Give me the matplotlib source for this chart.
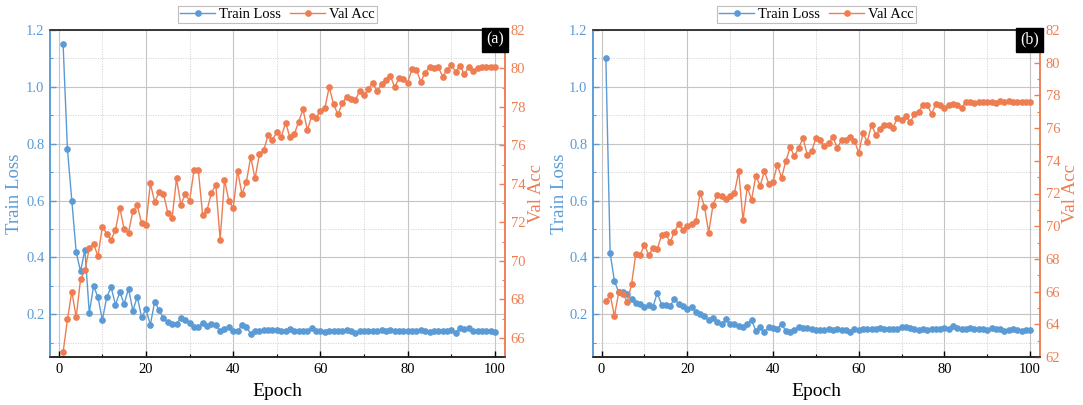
import matplotlib
matplotlib.use("Agg")
import matplotlib.pyplot as plt
from matplotlib.ticker import MultipleLocator
import numpy as np

plt.rcParams['font.family'] = ['Liberation Serif', 'DejaVu Serif']

BLUE = '#5B9BD5'
ORANGE = '#EE7D52'

epochs = list(range(1, 101))

# ---- run (a) ----
loss_a = [1.15, 0.78, 0.60, 0.419, 0.351, 0.428, 0.205, 0.30, 0.26, 0.18,
          0.26, 0.296, 0.234, 0.278, 0.237, 0.29, 0.213, 0.262, 0.19, 0.218,
          0.163, 0.245, 0.215, 0.187, 0.173, 0.167, 0.165, 0.188, 0.179, 0.17,
          0.156, 0.155, 0.171, 0.16, 0.167, 0.162, 0.14, 0.148, 0.156, 0.14,
          0.142, 0.161, 0.155, 0.132, 0.142, 0.143, 0.145, 0.145, 0.145, 0.144,
          0.14, 0.14, 0.15, 0.142, 0.14, 0.141, 0.142, 0.153, 0.143, 0.14,
          0.138, 0.14, 0.142, 0.143, 0.14, 0.145, 0.14, 0.136, 0.14, 0.141,
          0.14, 0.142, 0.143, 0.144, 0.143, 0.144, 0.143, 0.142, 0.143, 0.14,
          0.142, 0.143, 0.146, 0.142, 0.137, 0.14, 0.142, 0.143, 0.142, 0.146,
          0.136, 0.153, 0.148, 0.152, 0.14, 0.141, 0.14, 0.141, 0.14, 0.138]

acc_a = [65.24, 66.96, 68.4, 67.07, 69.03, 69.5, 70.65, 70.86, 70.25, 71.78,
         71.41, 71.08, 71.6, 72.76, 71.64, 71.47, 72.6, 72.88, 71.96, 71.87,
         74.03, 73.06, 73.56, 73.5, 72.51, 72.24, 74.28, 72.92, 73.46, 73.13,
         74.7, 74.7, 72.36, 72.64, 73.53, 73.96, 71.1, 74.21, 73.13, 72.74,
         74.68, 73.48, 74.08, 75.39, 74.28, 75.55, 75.76, 76.53, 76.3, 76.7,
         76.44, 77.17, 76.44, 76.58, 77.23, 77.87, 76.79, 77.54, 77.44, 77.8,
         77.93, 79.03, 78.14, 77.61, 78.19, 78.53, 78.41, 78.35, 78.85, 78.6,
         78.94, 79.24, 78.82, 79.2, 79.41, 79.62, 79.04, 79.48, 79.45, 79.27,
         79.98, 79.93, 79.3, 79.79, 80.07, 80.02, 80.07, 79.58, 79.92, 80.16,
         79.84, 80.14, 79.69, 80.1, 79.86, 80.02, 80.09, 80.1, 80.1, 80.1]

# ---- run (b) ----
loss_b = [1.10, 0.416, 0.317, 0.278, 0.278, 0.272, 0.254, 0.24, 0.237, 0.225,
          0.234, 0.227, 0.275, 0.234, 0.233, 0.229, 0.255, 0.236, 0.229, 0.219,
          0.225, 0.209, 0.20, 0.193, 0.179, 0.186, 0.174, 0.165, 0.182, 0.167,
          0.165, 0.16, 0.155, 0.167, 0.179, 0.143, 0.155, 0.138, 0.155, 0.152,
          0.15, 0.167, 0.14, 0.138, 0.146, 0.155, 0.152, 0.152, 0.15, 0.145,
          0.146, 0.145, 0.147, 0.146, 0.147, 0.146, 0.145, 0.139, 0.148, 0.146,
          0.147, 0.147, 0.148, 0.148, 0.151, 0.15, 0.149, 0.148, 0.15, 0.154,
          0.156, 0.152, 0.148, 0.146, 0.147, 0.146, 0.149, 0.15, 0.149, 0.152,
          0.15, 0.158, 0.152, 0.148, 0.147, 0.153, 0.15, 0.148, 0.149, 0.146,
          0.151, 0.148, 0.147, 0.141, 0.144, 0.148, 0.146, 0.143, 0.145, 0.145]

acc_b = [65.4, 65.79, 64.51, 65.95, 65.85, 65.38, 66.47, 68.32, 68.22, 68.88,
         68.22, 68.67, 68.59, 69.45, 69.51, 69.02, 69.65, 70.15, 69.76, 70.02,
         70.15, 70.3, 72.06, 71.2, 69.6, 71.3, 71.92, 71.86, 71.69, 71.86,
         72.02, 73.36, 70.38, 72.4, 71.61, 73.09, 72.48, 73.36, 72.6, 72.72,
         73.75, 72.97, 73.98, 74.82, 74.28, 74.8, 75.38, 74.37, 74.57, 75.38,
         75.27, 74.9, 75.11, 75.44, 74.78, 75.27, 75.3, 75.46, 75.23, 74.49,
         75.69, 75.17, 76.22, 75.56, 75.97, 76.2, 76.18, 76.01, 76.63, 76.49,
         76.73, 76.36, 76.84, 77.0, 77.43, 77.43, 76.86, 77.48, 77.43, 77.25,
         77.43, 77.45, 77.43, 77.23, 77.62, 77.6, 77.56, 77.58, 77.58, 77.6,
         77.6, 77.54, 77.66, 77.58, 77.64, 77.62, 77.62, 77.58, 77.6, 77.62]

panels = [
    dict(tag='(a)', loss=loss_a, acc=acc_a, acc_lim=(65, 82), acc_ticks=np.arange(66, 83, 2),
         rect=[50 / 1083, 48 / 405, 455 / 1083, 327 / 405], lab_x=(-0.077, 1.070)),
    dict(tag='(b)', loss=loss_b, acc=acc_b, acc_lim=(62, 82), acc_ticks=np.arange(62, 83, 2),
         rect=[593 / 1083, 48 / 405, 447 / 1083, 327 / 405], lab_x=(-0.076, 1.069)),
]

fig = plt.figure(figsize=(10.83, 4.05), dpi=100)

for p in panels:
    ax = fig.add_axes(p['rect'])
    ax2 = ax.twinx()

    l1, = ax.plot(epochs, p['loss'], color=BLUE, lw=1.0, marker='o', ms=3.8,
                  label='Train Loss', zorder=3)
    l2, = ax2.plot(epochs, p['acc'], color=ORANGE, lw=1.0, marker='o', ms=3.8,
                   label='Val Acc', zorder=3)

    ax.set_xlim(-2, 102.3)
    ax.set_ylim(0.05, 1.2)
    ax2.set_ylim(*p['acc_lim'])

    ax.xaxis.set_major_locator(MultipleLocator(20))
    ax.xaxis.set_minor_locator(MultipleLocator(10))
    ax.yaxis.set_minor_locator(MultipleLocator(0.1))
    ax.set_yticks(np.arange(0.2, 1.21, 0.2))
    ax2.set_yticks(p['acc_ticks'])
    ax2.yaxis.set_minor_locator(MultipleLocator(1))

    ax.grid(which='major', color='#c4c4c4', lw=0.8, ls='-')
    ax.grid(which='minor', color='#d2d2d2', lw=0.6, ls=(0, (1.5, 1.5)))
    ax.set_axisbelow(True)

    ax.tick_params(axis='x', which='both', direction='in', colors='black',
                   labelsize=10.5, top=False, pad=4)
    ax.tick_params(axis='x', which='major', length=4.5, width=1.0)
    ax.tick_params(axis='x', which='minor', length=2.5, width=0.8)
    ax.tick_params(axis='y', which='both', direction='in', colors=BLUE,
                   labelsize=10.5, pad=4)
    ax.tick_params(axis='y', which='major', length=4.5, width=1.0)
    ax.tick_params(axis='y', which='minor', length=2.5, width=0.8)
    ax2.tick_params(axis='y', which='both', direction='in', colors=ORANGE,
                    labelsize=10.5, pad=4)
    ax2.tick_params(axis='y', which='major', length=4.5, width=1.0)
    ax2.tick_params(axis='y', which='minor', length=2.5, width=0.8)
    ax.set_yticklabels([f'{v:.1f}' for v in np.arange(0.2, 1.21, 0.2)])

    for a in (ax, ax2):
        a.spines['left'].set_color(BLUE)
        a.spines['right'].set_color(ORANGE)
        a.spines['bottom'].set_color('#222222')
        a.spines['top'].set_color('#333333')
        for s in a.spines.values():
            s.set_linewidth(1.1)

    ax.set_xlabel('Epoch', fontsize=14, labelpad=5)
    ax.set_ylabel('Train Loss', fontsize=13.5, color=BLUE, va='center')
    ax2.set_ylabel('Val Acc', fontsize=13.5, color=ORANGE, va='center')
    ax.yaxis.set_label_coords(p['lab_x'][0], 0.5)
    ax2.yaxis.set_label_coords(p['lab_x'][1], 0.5)

    leg = ax.legend(handles=[l1, l2], loc='lower center', bbox_to_anchor=(0.5, 1.02),
                    ncol=2, fontsize=10.5, frameon=True, fancybox=False,
                    handlelength=2.4, handletextpad=0.3, columnspacing=0.6,
                    borderpad=0.15, borderaxespad=0.0)
    leg.get_frame().set_edgecolor('#b0b0b0')
    leg.get_frame().set_linewidth(0.8)

    ax2.text(0.997, 0.995, p['tag'], transform=ax2.transAxes, ha='right', va='top',
             fontsize=11.5, color='white', zorder=10,
             bbox=dict(boxstyle='square,pad=0.25', facecolor='black', edgecolor='black'))

fig.savefig('out.png', dpi=100)
